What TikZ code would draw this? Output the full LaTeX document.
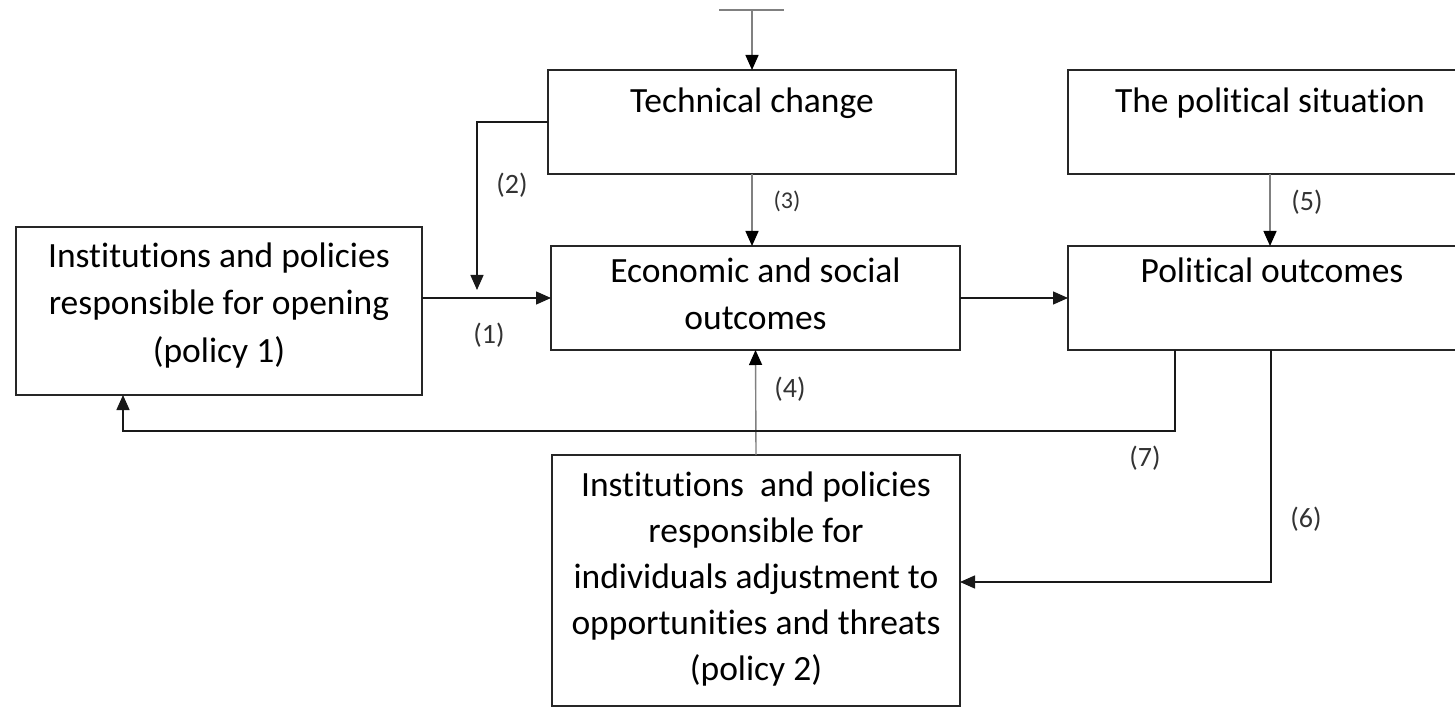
\documentclass[tikz,border=0pt]{standalone}
\usepackage{fontspec}
\setmainfont{Carlito}[RawFeature={-liga;-clig;-dlig}]
\usetikzlibrary{arrows.meta}
\begin{document}
\begin{tikzpicture}[x=1pt,y=-1pt,
  box/.style={draw=black!85, line width=1.6pt, rectangle, inner sep=0pt, outer sep=0pt},
  conn/.style={draw=black!90, line width=1.4pt, -{Triangle[length=15pt,width=13pt]}},
  gconn/.style={draw=black!50, line width=1.4pt, -{Triangle[length=15pt,width=13pt,color=black]}},
  maintext/.style={font=\fontsize{35.5}{47}\selectfont, align=center, anchor=base, inner sep=0pt},
  lbl/.style={font=\fontsize{28}{32}\selectfont, text=black!80, inner sep=0pt},
]
\useasboundingbox (0,0) rectangle (1455,708);
\fill[white] (0,0) rectangle (1455,708);

% boxes
\node[box, minimum width=408pt, minimum height=104pt] (tech)   at (752,122) {};
\node[box, minimum width=404pt, minimum height=104pt] (polsit) at (1270,122) {};
\node[box, minimum width=409pt, minimum height=104pt] (econ)   at (755.5,298) {};
\node[box, minimum width=404pt, minimum height=104pt] (polout) at (1270,298) {};
\node[box, minimum width=406pt, minimum height=168pt] (pol1)   at (219,311) {};
\node[box, minimum width=408pt, minimum height=251pt] (pol2)   at (756,580.5) {};

% texts (anchor base = baseline of the last line)
\node[maintext] (ttech) at (752,113) {Technical change};
\node[maintext] (tpolsit) at (1270,113) {The political situation};
\node[maintext] (tecon) at (755.5,329) {Economic and social\\outcomes};
\node[maintext] (tpolout) at (1272,283) {Political outcomes};
\node[maintext, font=\fontsize{35.5}{47.5}\selectfont] (tpol1) at (219,362) {Institutions and policies\\responsible for opening\\(policy 1)};
\node[maintext, font=\fontsize{35.5}{45.8}\selectfont] (tpol2) at (756,680) {Institutions\ \ and policies\\responsible for\\individuals adjustment to\\opportunities and threats\\(policy 2)};

% top T
\coordinate (tl) at (719,10);
\coordinate (tr) at (784,10);
\coordinate (tt) at (752,10);
\draw[draw=black!50, line width=1.4pt] (tl) -- (tr);
\draw[gconn] (tt) -- (tech.north);

% (2)
\coordinate (c2) at (477,290);
\draw[conn] (tech.west) -| (c2);
% (1)
\draw[conn] (pol1.east |- econ.west) -- (econ.west);
% (3)
\draw[gconn] (tech.south) -- (tech.south |- econ.north);
% econ -> political outcomes
\draw[conn] (econ.east) -- (polout.west);
% (5)
\draw[gconn] (polsit.south) -- (polout.north);
% (4)
\draw[gconn] (pol2.north) -- (econ.south);
% (6)
\coordinate (s6) at (1271,350);
\coordinate (e6) at (1271,582);
\draw[conn] (s6) -- (e6) -- (pol2.east |- e6);
% (7)
\coordinate (s7) at (1175,350);
\coordinate (c7) at (123,431);
\draw[conn] (s7) |- (c7) -- (c7 |- pol1.south);

% labels
\node[lbl] (l1) at (489,335) {(1)};
\node[lbl] (l2) at (512,185) {(2)};
\node[lbl, font=\fontsize{24}{28}\selectfont] (l3) at (787,201) {(3)};
\node[lbl] (l4) at (790,389) {(4)};
\node[lbl] (l5) at (1307,202) {(5)};
\node[lbl] (l6) at (1306,519) {(6)};
\node[lbl] (l7) at (1145,458) {(7)};
\end{tikzpicture}
\end{document}
